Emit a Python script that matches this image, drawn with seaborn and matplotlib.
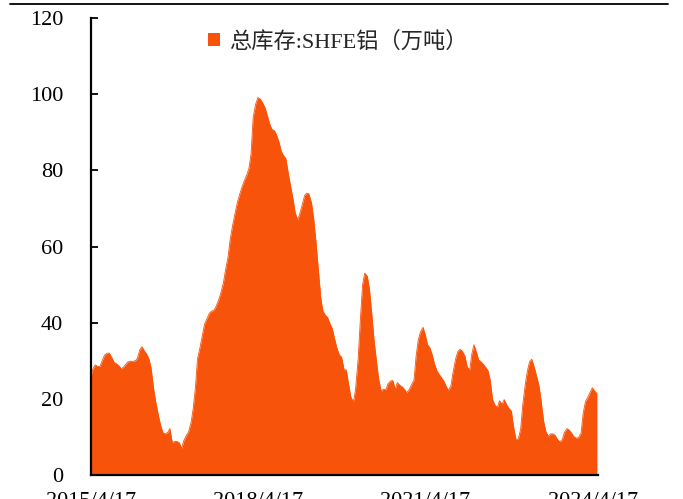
import matplotlib

matplotlib.use("Agg")
import matplotlib.pyplot as plt
import matplotlib.dates as mdates
import numpy as np
import pandas as pd
import seaborn as sns
from matplotlib.lines import Line2D
from matplotlib.patches import Patch

inv_2015 = [25.8, 28.0, 28.9, 28.5, 28.5, 30.2, 31.5, 32.0, 32.0, 30.8, 29.6, 29.2,
            28.8, 27.9, 28.3, 29.1, 29.7]
inv_2016 = [29.9, 29.8, 30.0, 30.6, 32.8, 33.7, 32.6, 31.8, 30.5, 28.0, 22.5, 19.0,
            15.8, 13.2, 11.1, 10.8, 11.2, 12.2, 8.5, 8.8, 8.8, 8.5, 7.0, 9.0]
inv_2017 = [10.4, 11.3, 13.8, 17.5, 22.8, 30.5, 33.6, 36.5, 39.7, 41.0, 42.5, 43.0,
            43.3, 44.3, 46.0, 47.8, 50.5, 53.9, 57.2, 61.8, 65.7, 68.5, 71.5, 73.5]
inv_2018 = [75.7, 77.2, 78.8, 80.5, 84.3, 94.0, 97.5, 99.1, 98.7, 97.8, 96.4, 94.5,
            92.2, 90.8, 90.4, 89.3, 87.3, 85.0, 83.8, 83.1, 79.0, 75.9, 72.5, 68.9]
inv_2019 = [67.0, 68.7, 71.2, 73.4, 74.0, 73.8, 71.5, 67.5, 61.0, 54.5, 46.5, 43.0,
            42.0, 41.4, 39.7, 38.5, 35.5, 33.3, 31.5, 31.0, 27.6, 27.6, 23.7, 20.5]
inv_2020 = [19.2, 22.5, 30.5, 40.5, 50.0, 53.0, 52.2, 48.8, 42.0, 35.5, 29.5, 25.0,
            22.0, 22.5, 22.4, 24.0, 24.7, 24.8, 22.5, 24.3, 23.5, 23.2, 22.5, 21.6]
inv_2021 = [22.5, 23.6, 25.0, 31.3, 35.5, 37.5, 38.8, 37.0, 34.2, 33.5, 31.5, 29.2,
            27.4, 26.5, 25.5, 24.7, 23.2, 22.2, 23.4, 27.0, 30.5, 32.4, 33.0, 32.5]
inv_2022 = [31.2, 28.5, 27.5, 31.8, 34.2, 32.5, 30.2, 29.8, 29.1, 28.4, 27.4, 25.0,
            19.8, 18.5, 17.7, 19.5, 18.6, 19.8, 18.5, 17.6, 16.8, 12.8, 9.4, 9.3]
inv_2023 = [12.0, 18.5, 24.0, 27.5, 29.8, 30.4, 28.2, 26.0, 23.5, 19.5, 14.0, 11.5,
            10.2, 10.8, 10.8, 10.4, 9.3, 8.7, 9.3, 11.2, 12.2, 11.8, 11.0, 10.1]
inv_2024 = [9.7, 9.8, 11.0, 16.3, 19.3, 20.3, 21.8, 22.9, 22.0, 21.4]

xtick_labels = ["2015/4/17", "2018/4/17", "2021/4/17", "2024/4/17"]
yticks = [0, 20, 40, 60, 80, 100, 120]
legend_label = "总库存:SHFE铝（万吨）"

values = (inv_2015 + inv_2016 + inv_2017 + inv_2018 + inv_2019 + inv_2020
          + inv_2021 + inv_2022 + inv_2023 + inv_2024)
df = pd.DataFrame({
    "date": pd.date_range("2015-04-15", periods=len(values), freq="SMS"),
    "inventory": values,
})

color = "#F8530A"

sns.set_theme(style="ticks")
plt.rcParams["font.family"] = ["Liberation Serif", "Noto Sans CJK SC"]

fig = plt.figure(figsize=(6.83, 4.99), dpi=100)
ax = fig.add_axes([91 / 683, 24 / 499, 507 / 683, 457 / 499])

sns.lineplot(data=df, x="date", y="inventory", ax=ax, color=color, linewidth=0.6)
ax.fill_between(df["date"], 0, df["inventory"], color=color, linewidth=0)

ax.set_ylim(0, 120)
ax.set_yticks(yticks)
ax.set_yticklabels([str(t) for t in yticks])
ax.set_xlim(pd.Timestamp("2015-04-17"), pd.Timestamp("2024-05-22"))
xt = [pd.Timestamp(s.replace("/", "-")) for s in xtick_labels]
ax.set_xticks(xt)
ax.set_xticklabels(xtick_labels)
ax.set_xlabel("")
ax.set_ylabel("")

for side in ["top", "right"]:
    ax.spines[side].set_visible(False)
for side in ["left", "bottom"]:
    ax.spines[side].set_linewidth(1.6)
    ax.spines[side].set_color("black")

ax.tick_params(axis="y", direction="in", length=5, width=1.3, pad=20,
               labelsize=16, colors="black")
ax.tick_params(axis="x", direction="in", length=6, width=1.3, pad=12,
               labelsize=16, colors="black")

handle = Patch(facecolor=color, edgecolor="none")
fig.legend(handles=[handle], labels=[legend_label], loc="center left",
           bbox_to_anchor=(208 / 683, 1 - 42 / 499), frameon=False,
           fontsize=16, handlelength=0.55, handleheight=0.55,
           handletextpad=0.4, borderpad=0, borderaxespad=0)

fig.add_artist(Line2D([10 / 683, 668 / 683], [1 - 4 / 499, 1 - 4 / 499],
                      color="black", linewidth=1.3))

fig.savefig("out.png", dpi=100)
